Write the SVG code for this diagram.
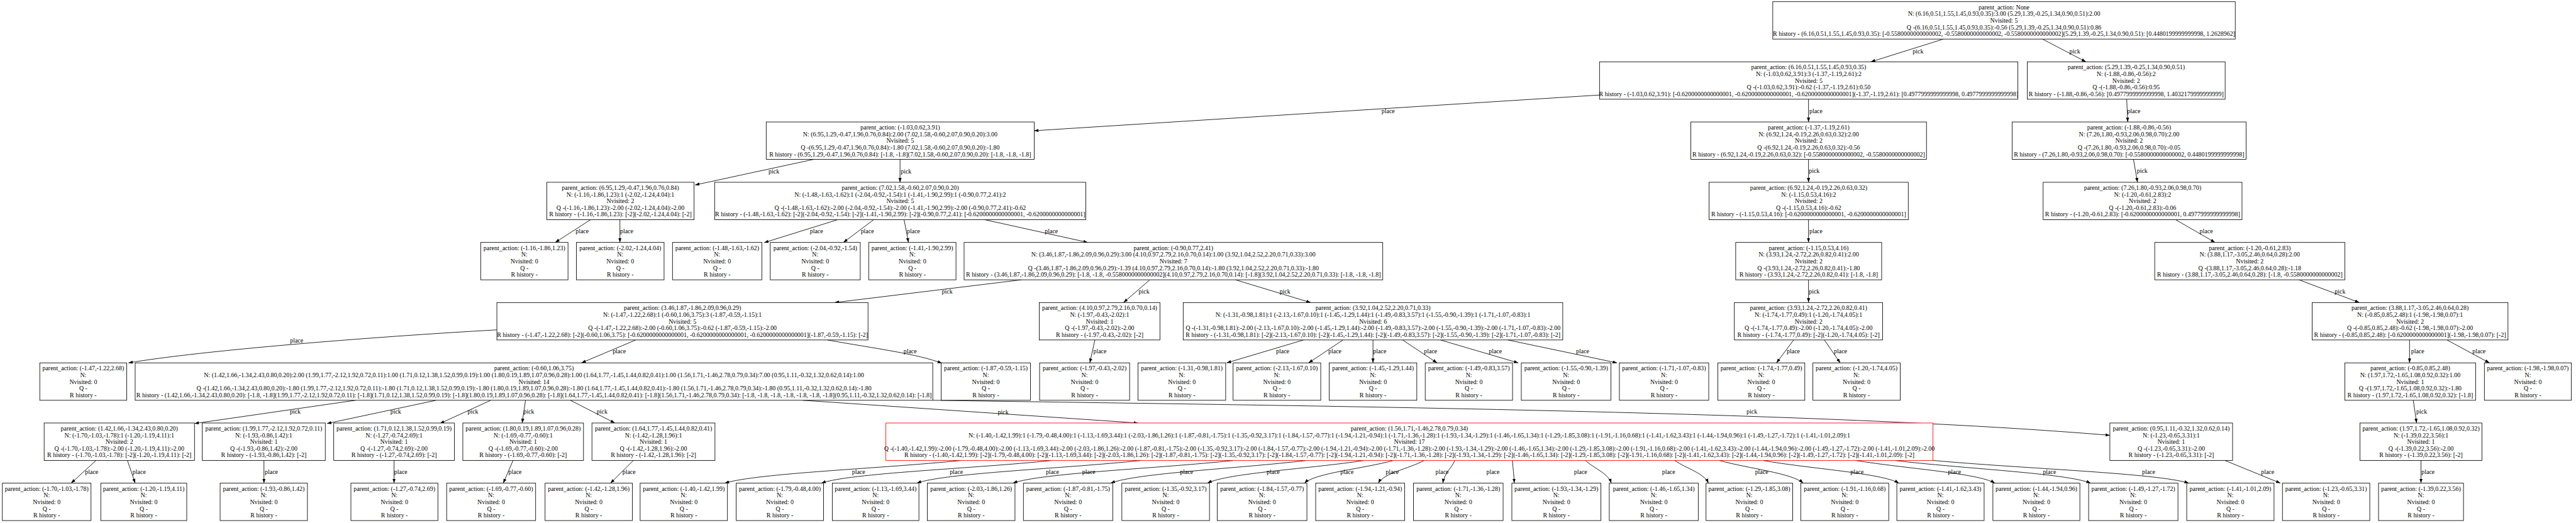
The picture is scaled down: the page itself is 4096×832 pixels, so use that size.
<svg xmlns="http://www.w3.org/2000/svg" width="4096" height="832" viewBox="0 0 4096 832">
<style>
.b{fill:#fff;stroke:#000;stroke-width:1.6}
.r{stroke:#f00}
text{font-family:"Liberation Serif","Times New Roman",serif;font-size:18.6px;text-anchor:middle;fill:#000}
.e{fill:none;stroke:#000;stroke-width:1.6;marker-end:url(#a)}
</style>
<defs>
<marker id="a" markerUnits="userSpaceOnUse" markerWidth="14" markerHeight="10" viewBox="0 0 14 10" refX="13" refY="4.65" orient="auto"><path d="M0,0 L13,4.65 L0,9.3 z" fill="#000"/></marker>
</defs>
<rect width="4096" height="832" fill="#fff"/>
<g transform="scale(0.536)">
<g id="edges">
<path class="e" d="M5765,116 L5550,183.5"/><text x="5690" y="158">pick</text>
<path class="e" d="M6059,116 L6188,183.5"/><text x="6155" y="158">pick</text>
<path class="e" d="M4745,282 L3068,388"/><text x="4118" y="336">place</text>
<path class="e" d="M5365,294.5 L5365,362"/><text x="5387" y="336">place</text>
<path class="e" d="M6309,294.5 L6312,362"/><text x="6330" y="335">place</text>
<path class="e" d="M6329,473 L6341,541"/><text x="6355" y="513">pick</text>
<path class="e" d="M6454,652 L6571,719.5"/><text x="6545" y="692">place</text>
<path class="e" d="M6820,830.5 L6999,898"/><text x="6942" y="871">pick</text>
<path class="e" d="M7148,1009 L7148,1077"/><text x="7172" y="1049">place</text>
<path class="e" d="M7259,1009 L7385,1077"/><text x="7354" y="1049">place</text>
<path class="e" d="M7159,1188 L7169,1255.5"/><text x="7184" y="1228">pick</text>
<path class="e" d="M7182,1366.5 L7182,1434"/><text x="7203" y="1407">place</text>
<path class="e" d="M5365,473 L5365,541"/><text x="5382" y="513">pick</text>
<path class="e" d="M5365,652 L5365,719.5"/><text x="5387" y="692">place</text>
<path class="e" d="M5365,830.5 L5365,898"/><text x="5382" y="871">pick</text>
<path class="e" d="M5321,1009 L5270,1077"/><text x="5320" y="1049">place</text>
<path class="e" d="M5412,1009 L5459,1077"/><text x="5460" y="1049">place</text>
<path class="e" d="M2414,473 L2062,549"/><text x="2296" y="514">pick</text>
<path class="e" d="M2670,473 L2670,541"/><text x="2688" y="514">pick</text>
<path class="e" d="M1752,652 L1647,719.5"/><text x="1727" y="693">place</text>
<path class="e" d="M1839,652 L1839,719.5"/><text x="1859" y="693">place</text>
<path class="e" d="M2485,652 L2267,720"/><text x="2422" y="693">place</text>
<path class="e" d="M2592,652 L2502,719.5"/><text x="2573" y="693">place</text>
<path class="e" d="M2682,652 L2695,719.5"/><text x="2710" y="693">place</text>
<path class="e" d="M2921,652 L3227,719.5"/><text x="3119" y="693">place</text>
<path class="e" d="M3030,830.5 L2476,898"/><text x="2810" y="872">pick</text>
<path class="e" d="M3411,830.5 L3333,898"/><text x="3394" y="872">pick</text>
<path class="e" d="M3665,830.5 L3888,898"/><text x="3812" y="871">pick</text>
<path class="e" d="M1474,979 C1100,1000 600,1040 381,1077"/><text x="880" y="1016">place</text>
<path class="e" d="M1886,1009 L1725,1077"/><text x="1837" y="1049">place</text>
<path class="e" d="M2454,1009 C2600,1035 2720,1050 2794,1078"/><text x="2700" y="1049">place</text>
<path class="e" d="M3248,1009 L3233,1077"/><text x="3263" y="1049">place</text>
<path class="e" d="M3867,1009 L3639,1077"/><text x="3805" y="1049">place</text>
<path class="e" d="M3984,1009 L3882,1077"/><text x="3960" y="1049">place</text>
<path class="e" d="M4073,1009 L4073,1077"/><text x="4093" y="1049">place</text>
<path class="e" d="M4161,1009 L4263,1077"/><text x="4244" y="1049">place</text>
<path class="e" d="M4273,1009 L4504,1077"/><text x="4436" y="1049">place</text>
<path class="e" d="M4473,1009 L4797,1077"/><text x="4695" y="1049">place</text>
<path class="e" d="M1055,1188 L577,1257"/><text x="876" y="1228">pick</text>
<path class="e" d="M1294,1188 L970,1257"/><text x="1174" y="1228">pick</text>
<path class="e" d="M1456,1188 L1305,1257"/><text x="1403" y="1228">pick</text>
<path class="e" d="M1559,1188 L1549,1255.5"/><text x="1569" y="1228">pick</text>
<path class="e" d="M1692,1188 L1824,1255.5"/><text x="1786" y="1228">pick</text>
<path class="e" d="M2381,1188 L3376,1255.5"/><text x="2976" y="1229">pick</text>
<path class="e" d="M2767,1188 C3900,1205 5400,1220 6259,1292"/><text x="5197" y="1228">pick</text>
<path class="e" d="M285,1366.5 L211,1434"/><text x="272" y="1407">place</text>
<path class="e" d="M378,1366.5 L401,1434"/><text x="413" y="1407">place</text>
<path class="e" d="M783,1366.5 L783,1434"/><text x="805" y="1407">place</text>
<path class="e" d="M1169,1366.5 L1169,1434"/><text x="1189" y="1407">place</text>
<path class="e" d="M1522,1366.5 L1493,1434"/><text x="1528" y="1407">place</text>
<path class="e" d="M1879,1366.5 L1811,1434"/><text x="1866" y="1407">place</text>
<path class="e" d="M6600,1366.5 L6765,1434"/><text x="6727" y="1407">place</text>
<path class="e" d="M2853,1366.5 C2612,1391 2247,1404 2150,1434"/><text x="2547" y="1407">place</text>
<path class="e" d="M3122,1366.5 C2887,1391 2518,1404 2437,1434"/><text x="2837" y="1407">place</text>
<path class="e" d="M3387,1366.5 C3153,1391 2800,1404 2720,1434"/><text x="3122" y="1407">place</text>
<path class="e" d="M3661,1366.5 C3430,1391 3085,1404 3005,1434"/><text x="3230" y="1407">place</text>
<path class="e" d="M3877,1366.5 C3670,1391 3370,1404 3295,1434"/><text x="3520" y="1407">place</text>
<path class="e" d="M4047,1366.5 C3890,1391 3640,1404 3582,1434"/><text x="3777" y="1407">place</text>
<path class="e" d="M4134,1366.5 C4045,1391 3900,1404 3870,1434"/><text x="3996" y="1407">place</text>
<path class="e" d="M4225,1366.5 C4180,1391 4105,1404 4089,1434"/><text x="4130" y="1407">place</text>
<path class="e" d="M4316,1366.5 C4305,1391 4285,1404 4280,1434"/><text x="4278" y="1407">place</text>
<path class="e" d="M4487,1366.5 C4488,1391 4491,1404 4492,1434"/><text x="4429" y="1407">place</text>
<path class="e" d="M4703,1366.5 C4730,1391 4770,1404 4780,1434"/><text x="4689" y="1407">place</text>
<path class="e" d="M4968,1366.5 C5003,1391 5055,1404 5068,1434"/><text x="4950" y="1407">place</text>
<path class="e" d="M5100,1366.5 C5187,1391 5317,1404 5349,1434"/><text x="5226" y="1407">place</text>
<path class="e" d="M5229,1366.5 C5366,1391 5583,1404 5633,1434"/><text x="5509" y="1407">place</text>
<path class="e" d="M5504,1366.5 C5654,1391 5868,1404 5918,1434"/><text x="5798" y="1407">place</text>
<path class="e" d="M5620,1366.5 C5820,1391 6130,1404 6202,1434"/><text x="6080" y="1407">place</text>
<path class="e" d="M5734,1366.5 C6000,1391 6400,1404 6493,1434"/><text x="6374" y="1407">place</text>
</g>
<g id="n_root" transform="translate(5945,5)"><rect class="b" x="-686" y="0" width="1372" height="111"/><text><tspan x="0" y="22.5">parent_action: None</tspan><tspan x="0" y="42.3">N: (6.16,0.51,1.55,1.45,0.93,0.35):3.00 (5.29,1.39,-0.25,1.34,0.90,0.51):2.00</tspan><tspan x="0" y="62.1">Nvisited: 5</tspan><tspan x="0" y="81.9">Q -(6.16,0.51,1.55,1.45,0.93,0.35):-0.56 (5.29,1.39,-0.25,1.34,0.90,0.51):0.86</tspan><tspan x="0" y="101.7">R history - (6.16,0.51,1.55,1.45,0.93,0.35): [-0.5580000000000002, -0.5580000000000002, -0.5580000000000002](5.29,1.39,-0.25,1.34,0.90,0.51): [0.4480199999999998, 1.2628962]</tspan></text></g>
<g id="n_1a" transform="translate(5365.5,183.5)"><rect class="b" x="-620.5" y="0" width="1241" height="111"/><text><tspan x="0" y="22.5">parent_action: (6.16,0.51,1.55,1.45,0.93,0.35)</tspan><tspan x="0" y="42.3">N: (-1.03,0.62,3.91):3 (-1.37,-1.19,2.61):2</tspan><tspan x="0" y="62.1">Nvisited: 5</tspan><tspan x="0" y="81.9">Q -(-1.03,0.62,3.91):-0.62 (-1.37,-1.19,2.61):0.50</tspan><tspan x="0" y="101.7">R history - (-1.03,0.62,3.91): [-0.6200000000000001, -0.6200000000000001, -0.6200000000000001](-1.37,-1.19,2.61): [0.4977999999999998, 0.4977999999999998]</tspan></text></g>
<g id="n_1b" transform="translate(6307.5,183.5)"><rect class="b" x="-293.5" y="0" width="587" height="111"/><text><tspan x="0" y="22.5">parent_action: (5.29,1.39,-0.25,1.34,0.90,0.51)</tspan><tspan x="0" y="42.3">N: (-1.88,-0.86,-0.56):2</tspan><tspan x="0" y="62.1">Nvisited: 2</tspan><tspan x="0" y="81.9">Q -(-1.88,-0.86,-0.56):0.95</tspan><tspan x="0" y="101.7">R history - (-1.88,-0.86,-0.56): [0.4977999999999998, 1.4032179999999999]</tspan></text></g>
<g id="n_2a" transform="translate(2670.5,362)"><rect class="b" x="-397.5" y="0" width="795" height="111"/><text><tspan x="0" y="22.5">parent_action: (-1.03,0.62,3.91)</tspan><tspan x="0" y="42.3">N: (6.95,1.29,-0.47,1.96,0.76,0.84):2.00 (7.02,1.58,-0.60,2.07,0.90,0.20):3.00</tspan><tspan x="0" y="62.1">Nvisited: 5</tspan><tspan x="0" y="81.9">Q -(6.95,1.29,-0.47,1.96,0.76,0.84):-1.80 (7.02,1.58,-0.60,2.07,0.90,0.20):-1.80</tspan><tspan x="0" y="101.7">R history - (6.95,1.29,-0.47,1.96,0.76,0.84): [-1.8, -1.8](7.02,1.58,-0.60,2.07,0.90,0.20): [-1.8, -1.8, -1.8]</tspan></text></g>
<g id="n_2b" transform="translate(5365.5,362)"><rect class="b" x="-349.5" y="0" width="699" height="111"/><text><tspan x="0" y="22.5">parent_action: (-1.37,-1.19,2.61)</tspan><tspan x="0" y="42.3">N: (6.92,1.24,-0.19,2.26,0.63,0.32):2.00</tspan><tspan x="0" y="62.1">Nvisited: 2</tspan><tspan x="0" y="81.9">Q -(6.92,1.24,-0.19,2.26,0.63,0.32):-0.56</tspan><tspan x="0" y="101.7">R history - (6.92,1.24,-0.19,2.26,0.63,0.32): [-0.5580000000000002, -0.5580000000000002]</tspan></text></g>
<g id="n_2c" transform="translate(6316,362)"><rect class="b" x="-347" y="0" width="694" height="111"/><text><tspan x="0" y="22.5">parent_action: (-1.88,-0.86,-0.56)</tspan><tspan x="0" y="42.3">N: (7.26,1.80,-0.93,2.06,0.98,0.70):2.00</tspan><tspan x="0" y="62.1">Nvisited: 2</tspan><tspan x="0" y="81.9">Q -(7.26,1.80,-0.93,2.06,0.98,0.70):-0.05</tspan><tspan x="0" y="101.7">R history - (7.26,1.80,-0.93,2.06,0.98,0.70): [-0.5580000000000002, 0.4480199999999998]</tspan></text></g>
<g id="n_3a" transform="translate(1840.5,541)"><rect class="b" x="-218.5" y="0" width="437" height="111"/><text><tspan x="0" y="22.5">parent_action: (6.95,1.29,-0.47,1.96,0.76,0.84)</tspan><tspan x="0" y="42.3">N: (-1.16,-1.86,1.23):1 (-2.02,-1.24,4.04):1</tspan><tspan x="0" y="62.1">Nvisited: 2</tspan><tspan x="0" y="81.9">Q -(-1.16,-1.86,1.23):-2.00 (-2.02,-1.24,4.04):-2.00</tspan><tspan x="0" y="101.7">R history - (-1.16,-1.86,1.23): [-2](-2.02,-1.24,4.04): [-2]</tspan></text></g>
<g id="n_3b" transform="translate(2670.5,541)"><rect class="b" x="-550.5" y="0" width="1101" height="111"/><text><tspan x="0" y="22.5">parent_action: (7.02,1.58,-0.60,2.07,0.90,0.20)</tspan><tspan x="0" y="42.3">N: (-1.48,-1.63,-1.62):1 (-2.04,-0.92,-1.54):1 (-1.41,-1.90,2.99):1 (-0.90,0.77,2.41):2</tspan><tspan x="0" y="62.1">Nvisited: 5</tspan><tspan x="0" y="81.9">Q -(-1.48,-1.63,-1.62):-2.00 (-2.04,-0.92,-1.54):-2.00 (-1.41,-1.90,2.99):-2.00 (-0.90,0.77,2.41):-0.62</tspan><tspan x="0" y="101.7">R history - (-1.48,-1.63,-1.62): [-2](-2.04,-0.92,-1.54): [-2](-1.41,-1.90,2.99): [-2](-0.90,0.77,2.41): [-0.6200000000000001, -0.6200000000000001]</tspan></text></g>
<g id="n_3c" transform="translate(5365.5,541)"><rect class="b" x="-295.5" y="0" width="591" height="111"/><text><tspan x="0" y="22.5">parent_action: (6.92,1.24,-0.19,2.26,0.63,0.32)</tspan><tspan x="0" y="42.3">N: (-1.15,0.53,4.16):2</tspan><tspan x="0" y="62.1">Nvisited: 2</tspan><tspan x="0" y="81.9">Q -(-1.15,0.53,4.16):-0.62</tspan><tspan x="0" y="101.7">R history - (-1.15,0.53,4.16): [-0.6200000000000001, -0.6200000000000001]</tspan></text></g>
<g id="n_3d" transform="translate(6356,541)"><rect class="b" x="-295" y="0" width="590" height="111"/><text><tspan x="0" y="22.5">parent_action: (7.26,1.80,-0.93,2.06,0.98,0.70)</tspan><tspan x="0" y="42.3">N: (-1.20,-0.61,2.83):2</tspan><tspan x="0" y="62.1">Nvisited: 2</tspan><tspan x="0" y="81.9">Q -(-1.20,-0.61,2.83):-0.06</tspan><tspan x="0" y="101.7">R history - (-1.20,-0.61,2.83): [-0.6200000000000001, 0.4977999999999998]</tspan></text></g>
<g id="n_4a" transform="translate(1555.5,719.5)"><rect class="b" x="-129.5" y="0" width="259" height="111"/><text><tspan x="0" y="22.5">parent_action: (-1.16,-1.86,1.23)</tspan><tspan x="0" y="42.3">N:</tspan><tspan x="0" y="62.1">Nvisited: 0</tspan><tspan x="0" y="81.9">Q -</tspan><tspan x="0" y="101.7">R history -</tspan></text></g>
<g id="n_4b" transform="translate(1840,719.5)"><rect class="b" x="-130" y="0" width="260" height="111"/><text><tspan x="0" y="22.5">parent_action: (-2.02,-1.24,4.04)</tspan><tspan x="0" y="42.3">N:</tspan><tspan x="0" y="62.1">Nvisited: 0</tspan><tspan x="0" y="81.9">Q -</tspan><tspan x="0" y="101.7">R history -</tspan></text></g>
<g id="n_4c" transform="translate(2127.5,719.5)"><rect class="b" x="-132.5" y="0" width="265" height="111"/><text><tspan x="0" y="22.5">parent_action: (-1.48,-1.63,-1.62)</tspan><tspan x="0" y="42.3">N:</tspan><tspan x="0" y="62.1">Nvisited: 0</tspan><tspan x="0" y="81.9">Q -</tspan><tspan x="0" y="101.7">R history -</tspan></text></g>
<g id="n_4d" transform="translate(2418.5,719.5)"><rect class="b" x="-133.5" y="0" width="267" height="111"/><text><tspan x="0" y="22.5">parent_action: (-2.04,-0.92,-1.54)</tspan><tspan x="0" y="42.3">N:</tspan><tspan x="0" y="62.1">Nvisited: 0</tspan><tspan x="0" y="81.9">Q -</tspan><tspan x="0" y="101.7">R history -</tspan></text></g>
<g id="n_4e" transform="translate(2706.5,719.5)"><rect class="b" x="-129.5" y="0" width="259" height="111"/><text><tspan x="0" y="22.5">parent_action: (-1.41,-1.90,2.99)</tspan><tspan x="0" y="42.3">N:</tspan><tspan x="0" y="62.1">Nvisited: 0</tspan><tspan x="0" y="81.9">Q -</tspan><tspan x="0" y="101.7">R history -</tspan></text></g>
<g id="n_4f" transform="translate(3481,719.5)"><rect class="b" x="-621" y="0" width="1242" height="111"/><text><tspan x="0" y="22.5">parent_action: (-0.90,0.77,2.41)</tspan><tspan x="0" y="42.3">N: (3.46,1.87,-1.86,2.09,0.96,0.29):3.00 (4.10,0.97,2.79,2.16,0.70,0.14):1.00 (3.92,1.04,2.52,2.20,0.71,0.33):3.00</tspan><tspan x="0" y="62.1">Nvisited: 7</tspan><tspan x="0" y="81.9">Q -(3.46,1.87,-1.86,2.09,0.96,0.29):-1.39 (4.10,0.97,2.79,2.16,0.70,0.14):-1.80 (3.92,1.04,2.52,2.20,0.71,0.33):-1.80</tspan><tspan x="0" y="101.7">R history - (3.46,1.87,-1.86,2.09,0.96,0.29): [-1.8, -1.8, -0.5580000000000002](4.10,0.97,2.79,2.16,0.70,0.14): [-1.8](3.92,1.04,2.52,2.20,0.71,0.33): [-1.8, -1.8, -1.8]</tspan></text></g>
<g id="n_4g" transform="translate(5365.5,719.5)"><rect class="b" x="-216.5" y="0" width="433" height="111"/><text><tspan x="0" y="22.5">parent_action: (-1.15,0.53,4.16)</tspan><tspan x="0" y="42.3">N: (3.93,1.24,-2.72,2.26,0.82,0.41):2.00</tspan><tspan x="0" y="62.1">Nvisited: 2</tspan><tspan x="0" y="81.9">Q -(3.93,1.24,-2.72,2.26,0.82,0.41):-1.80</tspan><tspan x="0" y="101.7">R history - (3.93,1.24,-2.72,2.26,0.82,0.41): [-1.8, -1.8]</tspan></text></g>
<g id="n_4h" transform="translate(6674,719.5)"><rect class="b" x="-282" y="0" width="564" height="111"/><text><tspan x="0" y="22.5">parent_action: (-1.20,-0.61,2.83)</tspan><tspan x="0" y="42.3">N: (3.88,1.17,-3.05,2.46,0.64,0.28):2.00</tspan><tspan x="0" y="62.1">Nvisited: 2</tspan><tspan x="0" y="81.9">Q -(3.88,1.17,-3.05,2.46,0.64,0.28):-1.18</tspan><tspan x="0" y="101.7">R history - (3.88,1.17,-3.05,2.46,0.64,0.28): [-1.8, -0.5580000000000002]</tspan></text></g>
<g id="n_5a" transform="translate(2024.5,898)"><rect class="b" x="-550.5" y="0" width="1101" height="111"/><text><tspan x="0" y="22.5">parent_action: (3.46,1.87,-1.86,2.09,0.96,0.29)</tspan><tspan x="0" y="42.3">N: (-1.47,-1.22,2.68):1 (-0.60,1.06,3.75):3 (-1.87,-0.59,-1.15):1</tspan><tspan x="0" y="62.1">Nvisited: 5</tspan><tspan x="0" y="81.9">Q -(-1.47,-1.22,2.68):-2.00 (-0.60,1.06,3.75):-0.62 (-1.87,-0.59,-1.15):-2.00</tspan><tspan x="0" y="101.7">R history - (-1.47,-1.22,2.68): [-2](-0.60,1.06,3.75): [-0.6200000000000001, -0.6200000000000001, -0.6200000000000001](-1.87,-0.59,-1.15): [-2]</tspan></text></g>
<g id="n_5b" transform="translate(3262,898)"><rect class="b" x="-179" y="0" width="358" height="111"/><text><tspan x="0" y="22.5">parent_action: (4.10,0.97,2.79,2.16,0.70,0.14)</tspan><tspan x="0" y="42.3">N: (-1.97,-0.43,-2.02):1</tspan><tspan x="0" y="62.1">Nvisited: 1</tspan><tspan x="0" y="81.9">Q -(-1.97,-0.43,-2.02):-2.00</tspan><tspan x="0" y="101.7">R history - (-1.97,-0.43,-2.02): [-2]</tspan></text></g>
<g id="n_5c" transform="translate(4073,898)"><rect class="b" x="-563" y="0" width="1126" height="111"/><text><tspan x="0" y="22.5">parent_action: (3.92,1.04,2.52,2.20,0.71,0.33)</tspan><tspan x="0" y="42.3">N: (-1.31,-0.98,1.81):1 (-2.13,-1.67,0.10):1 (-1.45,-1.29,1.44):1 (-1.49,-0.83,3.57):1 (-1.55,-0.90,-1.39):1 (-1.71,-1.07,-0.83):1</tspan><tspan x="0" y="62.1">Nvisited: 6</tspan><tspan x="0" y="81.9">Q -(-1.31,-0.98,1.81):-2.00 (-2.13,-1.67,0.10):-2.00 (-1.45,-1.29,1.44):-2.00 (-1.49,-0.83,3.57):-2.00 (-1.55,-0.90,-1.39):-2.00 (-1.71,-1.07,-0.83):-2.00</tspan><tspan x="0" y="101.7">R history - (-1.31,-0.98,1.81): [-2](-2.13,-1.67,0.10): [-2](-1.45,-1.29,1.44): [-2](-1.49,-0.83,3.57): [-2](-1.55,-0.90,-1.39): [-2](-1.71,-1.07,-0.83): [-2]</tspan></text></g>
<g id="n_5d" transform="translate(5365,898)"><rect class="b" x="-220" y="0" width="440" height="111"/><text><tspan x="0" y="22.5">parent_action: (3.93,1.24,-2.72,2.26,0.82,0.41)</tspan><tspan x="0" y="42.3">N: (-1.74,-1.77,0.49):1 (-1.20,-1.74,4.05):1</tspan><tspan x="0" y="62.1">Nvisited: 2</tspan><tspan x="0" y="81.9">Q -(-1.74,-1.77,0.49):-2.00 (-1.20,-1.74,4.05):-2.00</tspan><tspan x="0" y="101.7">R history - (-1.74,-1.77,0.49): [-2](-1.20,-1.74,4.05): [-2]</tspan></text></g>
<g id="n_5e" transform="translate(7149.5,898)"><rect class="b" x="-290.5" y="0" width="581" height="111"/><text><tspan x="0" y="22.5">parent_action: (3.88,1.17,-3.05,2.46,0.64,0.28)</tspan><tspan x="0" y="42.3">N: (-0.85,0.85,2.48):1 (-1.98,-1.98,0.07):1</tspan><tspan x="0" y="62.1">Nvisited: 2</tspan><tspan x="0" y="81.9">Q -(-0.85,0.85,2.48):-0.62 (-1.98,-1.98,0.07):-2.00</tspan><tspan x="0" y="101.7">R history - (-0.85,0.85,2.48): [-0.6200000000000001](-1.98,-1.98,0.07): [-2]</tspan></text></g>
<g id="n_6a" transform="translate(247,1077)"><rect class="b" x="-129" y="0" width="258" height="111"/><text><tspan x="0" y="22.5">parent_action: (-1.47,-1.22,2.68)</tspan><tspan x="0" y="42.3">N:</tspan><tspan x="0" y="62.1">Nvisited: 0</tspan><tspan x="0" y="81.9">Q -</tspan><tspan x="0" y="101.7">R history -</tspan></text></g>
<g id="n_6b" transform="translate(1584,1077)"><rect class="b" x="-1183" y="0" width="2366" height="111"/><text><tspan x="0" y="22.5">parent_action: (-0.60,1.06,3.75)</tspan><tspan x="0" y="42.3">N: (1.42,1.66,-1.34,2.43,0.80,0.20):2.00 (1.99,1.77,-2.12,1.92,0.72,0.11):1.00 (1.71,0.12,1.38,1.52,0.99,0.19):1.00 (1.80,0.19,1.89,1.07,0.96,0.28):1.00 (1.64,1.77,-1.45,1.44,0.82,0.41):1.00 (1.56,1.71,-1.46,2.78,0.79,0.34):7.00 (0.95,1.11,-0.32,1.32,0.62,0.14):1.00</tspan><tspan x="0" y="62.1">Nvisited: 14</tspan><tspan x="0" y="81.9">Q -(1.42,1.66,-1.34,2.43,0.80,0.20):-1.80 (1.99,1.77,-2.12,1.92,0.72,0.11):-1.80 (1.71,0.12,1.38,1.52,0.99,0.19):-1.80 (1.80,0.19,1.89,1.07,0.96,0.28):-1.80 (1.64,1.77,-1.45,1.44,0.82,0.41):-1.80 (1.56,1.71,-1.46,2.78,0.79,0.34):-1.80 (0.95,1.11,-0.32,1.32,0.62,0.14):-1.80</tspan><tspan x="0" y="101.7">R history - (1.42,1.66,-1.34,2.43,0.80,0.20): [-1.8, -1.8](1.99,1.77,-2.12,1.92,0.72,0.11): [-1.8](1.71,0.12,1.38,1.52,0.99,0.19): [-1.8](1.80,0.19,1.89,1.07,0.96,0.28): [-1.8](1.64,1.77,-1.45,1.44,0.82,0.41): [-1.8](1.56,1.71,-1.46,2.78,0.79,0.34): [-1.8, -1.8, -1.8, -1.8, -1.8, -1.8, -1.8](0.95,1.11,-0.32,1.32,0.62,0.14): [-1.8]</tspan></text></g>
<g id="n_6c" transform="translate(2924.5,1077)"><rect class="b" x="-132.5" y="0" width="265" height="111"/><text><tspan x="0" y="22.5">parent_action: (-1.87,-0.59,-1.15)</tspan><tspan x="0" y="42.3">N:</tspan><tspan x="0" y="62.1">Nvisited: 0</tspan><tspan x="0" y="81.9">Q -</tspan><tspan x="0" y="101.7">R history -</tspan></text></g>
<g id="n_6d" transform="translate(3217.5,1077)"><rect class="b" x="-133.5" y="0" width="267" height="111"/><text><tspan x="0" y="22.5">parent_action: (-1.97,-0.43,-2.02)</tspan><tspan x="0" y="42.3">N:</tspan><tspan x="0" y="62.1">Nvisited: 0</tspan><tspan x="0" y="81.9">Q -</tspan><tspan x="0" y="101.7">R history -</tspan></text></g>
<g id="n_6e" transform="translate(3506,1077)"><rect class="b" x="-130" y="0" width="260" height="111"/><text><tspan x="0" y="22.5">parent_action: (-1.31,-0.98,1.81)</tspan><tspan x="0" y="42.3">N:</tspan><tspan x="0" y="62.1">Nvisited: 0</tspan><tspan x="0" y="81.9">Q -</tspan><tspan x="0" y="101.7">R history -</tspan></text></g>
<g id="n_6f" transform="translate(3788,1077)"><rect class="b" x="-130" y="0" width="260" height="111"/><text><tspan x="0" y="22.5">parent_action: (-2.13,-1.67,0.10)</tspan><tspan x="0" y="42.3">N:</tspan><tspan x="0" y="62.1">Nvisited: 0</tspan><tspan x="0" y="81.9">Q -</tspan><tspan x="0" y="101.7">R history -</tspan></text></g>
<g id="n_6g" transform="translate(4073,1077)"><rect class="b" x="-130" y="0" width="260" height="111"/><text><tspan x="0" y="22.5">parent_action: (-1.45,-1.29,1.44)</tspan><tspan x="0" y="42.3">N:</tspan><tspan x="0" y="62.1">Nvisited: 0</tspan><tspan x="0" y="81.9">Q -</tspan><tspan x="0" y="101.7">R history -</tspan></text></g>
<g id="n_6h" transform="translate(4357.5,1077)"><rect class="b" x="-129.5" y="0" width="259" height="111"/><text><tspan x="0" y="22.5">parent_action: (-1.49,-0.83,3.57)</tspan><tspan x="0" y="42.3">N:</tspan><tspan x="0" y="62.1">Nvisited: 0</tspan><tspan x="0" y="81.9">Q -</tspan><tspan x="0" y="101.7">R history -</tspan></text></g>
<g id="n_6i" transform="translate(4646,1077)"><rect class="b" x="-133" y="0" width="266" height="111"/><text><tspan x="0" y="22.5">parent_action: (-1.55,-0.90,-1.39)</tspan><tspan x="0" y="42.3">N:</tspan><tspan x="0" y="62.1">Nvisited: 0</tspan><tspan x="0" y="81.9">Q -</tspan><tspan x="0" y="101.7">R history -</tspan></text></g>
<g id="n_6j" transform="translate(4936.5,1077)"><rect class="b" x="-132.5" y="0" width="265" height="111"/><text><tspan x="0" y="22.5">parent_action: (-1.71,-1.07,-0.83)</tspan><tspan x="0" y="42.3">N:</tspan><tspan x="0" y="62.1">Nvisited: 0</tspan><tspan x="0" y="81.9">Q -</tspan><tspan x="0" y="101.7">R history -</tspan></text></g>
<g id="n_6k" transform="translate(5225,1077)"><rect class="b" x="-129" y="0" width="258" height="111"/><text><tspan x="0" y="22.5">parent_action: (-1.74,-1.77,0.49)</tspan><tspan x="0" y="42.3">N:</tspan><tspan x="0" y="62.1">Nvisited: 0</tspan><tspan x="0" y="81.9">Q -</tspan><tspan x="0" y="101.7">R history -</tspan></text></g>
<g id="n_6l" transform="translate(5507.5,1077)"><rect class="b" x="-129.5" y="0" width="259" height="111"/><text><tspan x="0" y="22.5">parent_action: (-1.20,-1.74,4.05)</tspan><tspan x="0" y="42.3">N:</tspan><tspan x="0" y="62.1">Nvisited: 0</tspan><tspan x="0" y="81.9">Q -</tspan><tspan x="0" y="101.7">R history -</tspan></text></g>
<g id="n_6m" transform="translate(7150,1077)"><rect class="b" x="-194" y="0" width="388" height="111"/><text><tspan x="0" y="22.5">parent_action: (-0.85,0.85,2.48)</tspan><tspan x="0" y="42.3">N: (1.97,1.72,-1.65,1.08,0.92,0.32):1.00</tspan><tspan x="0" y="62.1">Nvisited: 1</tspan><tspan x="0" y="81.9">Q -(1.97,1.72,-1.65,1.08,0.92,0.32):-1.80</tspan><tspan x="0" y="101.7">R history - (1.97,1.72,-1.65,1.08,0.92,0.32): [-1.8]</tspan></text></g>
<g id="n_6n" transform="translate(7499,1077)"><rect class="b" x="-129" y="0" width="258" height="111"/><text><tspan x="0" y="22.5">parent_action: (-1.98,-1.98,0.07)</tspan><tspan x="0" y="42.3">N:</tspan><tspan x="0" y="62.1">Nvisited: 0</tspan><tspan x="0" y="81.9">Q -</tspan><tspan x="0" y="101.7">R history -</tspan></text></g>
<g id="n_7a" transform="translate(354,1255.5)"><rect class="b" x="-223" y="0" width="446" height="111"/><text><tspan x="0" y="22.5">parent_action: (1.42,1.66,-1.34,2.43,0.80,0.20)</tspan><tspan x="0" y="42.3">N: (-1.70,-1.03,-1.78):1 (-1.20,-1.19,4.11):1</tspan><tspan x="0" y="62.1">Nvisited: 2</tspan><tspan x="0" y="81.9">Q -(-1.70,-1.03,-1.78):-2.00 (-1.20,-1.19,4.11):-2.00</tspan><tspan x="0" y="101.7">R history - (-1.70,-1.03,-1.78): [-2](-1.20,-1.19,4.11): [-2]</tspan></text></g>
<g id="n_7b" transform="translate(782.5,1255.5)"><rect class="b" x="-182.5" y="0" width="365" height="111"/><text><tspan x="0" y="22.5">parent_action: (1.99,1.77,-2.12,1.92,0.72,0.11)</tspan><tspan x="0" y="42.3">N: (-1.93,-0.86,1.42):1</tspan><tspan x="0" y="62.1">Nvisited: 1</tspan><tspan x="0" y="81.9">Q -(-1.93,-0.86,1.42):-2.00</tspan><tspan x="0" y="101.7">R history - (-1.93,-0.86,1.42): [-2]</tspan></text></g>
<g id="n_7c" transform="translate(1169,1255.5)"><rect class="b" x="-179" y="0" width="358" height="111"/><text><tspan x="0" y="22.5">parent_action: (1.71,0.12,1.38,1.52,0.99,0.19)</tspan><tspan x="0" y="42.3">N: (-1.27,-0.74,2.69):1</tspan><tspan x="0" y="62.1">Nvisited: 1</tspan><tspan x="0" y="81.9">Q -(-1.27,-0.74,2.69):-2.00</tspan><tspan x="0" y="101.7">R history - (-1.27,-0.74,2.69): [-2]</tspan></text></g>
<g id="n_7d" transform="translate(1552,1255.5)"><rect class="b" x="-179" y="0" width="358" height="111"/><text><tspan x="0" y="22.5">parent_action: (1.80,0.19,1.89,1.07,0.96,0.28)</tspan><tspan x="0" y="42.3">N: (-1.69,-0.77,-0.60):1</tspan><tspan x="0" y="62.1">Nvisited: 1</tspan><tspan x="0" y="81.9">Q -(-1.69,-0.77,-0.60):-2.00</tspan><tspan x="0" y="101.7">R history - (-1.69,-0.77,-0.60): [-2]</tspan></text></g>
<g id="n_7e" transform="translate(1938.5,1255.5)"><rect class="b" x="-182.5" y="0" width="365" height="111"/><text><tspan x="0" y="22.5">parent_action: (1.64,1.77,-1.45,1.44,0.82,0.41)</tspan><tspan x="0" y="42.3">N: (-1.42,-1.28,1.96):1</tspan><tspan x="0" y="62.1">Nvisited: 1</tspan><tspan x="0" y="81.9">Q -(-1.42,-1.28,1.96):-2.00</tspan><tspan x="0" y="101.7">R history - (-1.42,-1.28,1.96): [-2]</tspan></text></g>
<g id="n_7f" transform="translate(4181,1255.5)"><rect class="b r" x="-1553" y="0" width="3106" height="111"/><text><tspan x="0" y="22.5">parent_action: (1.56,1.71,-1.46,2.78,0.79,0.34)</tspan><tspan x="0" y="42.3">N: (-1.40,-1.42,1.99):1 (-1.79,-0.48,4.00):1 (-1.13,-1.69,3.44):1 (-2.03,-1.86,1.26):1 (-1.87,-0.81,-1.75):1 (-1.35,-0.92,3.17):1 (-1.84,-1.57,-0.77):1 (-1.94,-1.21,-0.94):1 (-1.71,-1.36,-1.28):1 (-1.93,-1.34,-1.29):1 (-1.46,-1.65,1.34):1 (-1.29,-1.85,3.08):1 (-1.91,-1.16,0.68):1 (-1.41,-1.62,3.43):1 (-1.44,-1.94,0.96):1 (-1.49,-1.27,-1.72):1 (-1.41,-1.01,2.09):1</tspan><tspan x="0" y="62.1">Nvisited: 17</tspan><tspan x="0" y="81.9">Q -(-1.40,-1.42,1.99):-2.00 (-1.79,-0.48,4.00):-2.00 (-1.13,-1.69,3.44):-2.00 (-2.03,-1.86,1.26):-2.00 (-1.87,-0.81,-1.75):-2.00 (-1.35,-0.92,3.17):-2.00 (-1.84,-1.57,-0.77):-2.00 (-1.94,-1.21,-0.94):-2.00 (-1.71,-1.36,-1.28):-2.00 (-1.93,-1.34,-1.29):-2.00 (-1.46,-1.65,1.34):-2.00 (-1.29,-1.85,3.08):-2.00 (-1.91,-1.16,0.68):-2.00 (-1.41,-1.62,3.43):-2.00 (-1.44,-1.94,0.96):-2.00 (-1.49,-1.27,-1.72):-2.00 (-1.41,-1.01,2.09):-2.00</tspan><tspan x="0" y="101.7">R history - (-1.40,-1.42,1.99): [-2](-1.79,-0.48,4.00): [-2](-1.13,-1.69,3.44): [-2](-2.03,-1.86,1.26): [-2](-1.87,-0.81,-1.75): [-2](-1.35,-0.92,3.17): [-2](-1.84,-1.57,-0.77): [-2](-1.94,-1.21,-0.94): [-2](-1.71,-1.36,-1.28): [-2](-1.93,-1.34,-1.29): [-2](-1.46,-1.65,1.34): [-2](-1.29,-1.85,3.08): [-2](-1.91,-1.16,0.68): [-2](-1.41,-1.62,3.43): [-2](-1.44,-1.94,0.96): [-2](-1.49,-1.27,-1.72): [-2](-1.41,-1.01,2.09): [-2]</tspan></text></g>
<g id="n_7g" transform="translate(6441,1255.5)"><rect class="b" x="-182" y="0" width="364" height="111"/><text><tspan x="0" y="22.5">parent_action: (0.95,1.11,-0.32,1.32,0.62,0.14)</tspan><tspan x="0" y="42.3">N: (-1.23,-0.65,3.31):1</tspan><tspan x="0" y="62.1">Nvisited: 1</tspan><tspan x="0" y="81.9">Q -(-1.23,-0.65,3.31):-2.00</tspan><tspan x="0" y="101.7">R history - (-1.23,-0.65,3.31): [-2]</tspan></text></g>
<g id="n_7h" transform="translate(7182,1255.5)"><rect class="b" x="-181" y="0" width="362" height="111"/><text><tspan x="0" y="22.5">parent_action: (1.97,1.72,-1.65,1.08,0.92,0.32)</tspan><tspan x="0" y="42.3">N: (-1.39,0.22,3.56):1</tspan><tspan x="0" y="62.1">Nvisited: 1</tspan><tspan x="0" y="81.9">Q -(-1.39,0.22,3.56):-2.00</tspan><tspan x="0" y="101.7">R history - (-1.39,0.22,3.56): [-2]</tspan></text></g>
<g id="n_8_01" transform="translate(138.5,1434)"><rect class="b" x="-131.5" y="0" width="263" height="111"/><text><tspan x="0" y="22.5">parent_action: (-1.70,-1.03,-1.78)</tspan><tspan x="0" y="42.3">N:</tspan><tspan x="0" y="62.1">Nvisited: 0</tspan><tspan x="0" y="81.9">Q -</tspan><tspan x="0" y="101.7">R history -</tspan></text></g>
<g id="n_8_02" transform="translate(426.5,1434)"><rect class="b" x="-127.5" y="0" width="255" height="111"/><text><tspan x="0" y="22.5">parent_action: (-1.20,-1.19,4.11)</tspan><tspan x="0" y="42.3">N:</tspan><tspan x="0" y="62.1">Nvisited: 0</tspan><tspan x="0" y="81.9">Q -</tspan><tspan x="0" y="101.7">R history -</tspan></text></g>
<g id="n_8_03" transform="translate(782.5,1434)"><rect class="b" x="-129.5" y="0" width="259" height="111"/><text><tspan x="0" y="22.5">parent_action: (-1.93,-0.86,1.42)</tspan><tspan x="0" y="42.3">N:</tspan><tspan x="0" y="62.1">Nvisited: 0</tspan><tspan x="0" y="81.9">Q -</tspan><tspan x="0" y="101.7">R history -</tspan></text></g>
<g id="n_8_04" transform="translate(1170,1434)"><rect class="b" x="-129" y="0" width="258" height="111"/><text><tspan x="0" y="22.5">parent_action: (-1.27,-0.74,2.69)</tspan><tspan x="0" y="42.3">N:</tspan><tspan x="0" y="62.1">Nvisited: 0</tspan><tspan x="0" y="81.9">Q -</tspan><tspan x="0" y="101.7">R history -</tspan></text></g>
<g id="n_8_05" transform="translate(1457,1434)"><rect class="b" x="-132" y="0" width="264" height="111"/><text><tspan x="0" y="22.5">parent_action: (-1.69,-0.77,-0.60)</tspan><tspan x="0" y="42.3">N:</tspan><tspan x="0" y="62.1">Nvisited: 0</tspan><tspan x="0" y="81.9">Q -</tspan><tspan x="0" y="101.7">R history -</tspan></text></g>
<g id="n_8_06" transform="translate(1746.5,1434)"><rect class="b" x="-129.5" y="0" width="259" height="111"/><text><tspan x="0" y="22.5">parent_action: (-1.42,-1.28,1.96)</tspan><tspan x="0" y="42.3">N:</tspan><tspan x="0" y="62.1">Nvisited: 0</tspan><tspan x="0" y="81.9">Q -</tspan><tspan x="0" y="101.7">R history -</tspan></text></g>
<g id="n_8_07" transform="translate(2028.5,1434)"><rect class="b" x="-129.5" y="0" width="259" height="111"/><text><tspan x="0" y="22.5">parent_action: (-1.40,-1.42,1.99)</tspan><tspan x="0" y="42.3">N:</tspan><tspan x="0" y="62.1">Nvisited: 0</tspan><tspan x="0" y="81.9">Q -</tspan><tspan x="0" y="101.7">R history -</tspan></text></g>
<g id="n_8_08" transform="translate(2313.5,1434)"><rect class="b" x="-129.5" y="0" width="259" height="111"/><text><tspan x="0" y="22.5">parent_action: (-1.79,-0.48,4.00)</tspan><tspan x="0" y="42.3">N:</tspan><tspan x="0" y="62.1">Nvisited: 0</tspan><tspan x="0" y="81.9">Q -</tspan><tspan x="0" y="101.7">R history -</tspan></text></g>
<g id="n_8_09" transform="translate(2597.5,1434)"><rect class="b" x="-128.5" y="0" width="257" height="111"/><text><tspan x="0" y="22.5">parent_action: (-1.13,-1.69,3.44)</tspan><tspan x="0" y="42.3">N:</tspan><tspan x="0" y="62.1">Nvisited: 0</tspan><tspan x="0" y="81.9">Q -</tspan><tspan x="0" y="101.7">R history -</tspan></text></g>
<g id="n_8_10" transform="translate(2881,1434)"><rect class="b" x="-130" y="0" width="260" height="111"/><text><tspan x="0" y="22.5">parent_action: (-2.03,-1.86,1.26)</tspan><tspan x="0" y="42.3">N:</tspan><tspan x="0" y="62.1">Nvisited: 0</tspan><tspan x="0" y="81.9">Q -</tspan><tspan x="0" y="101.7">R history -</tspan></text></g>
<g id="n_8_11" transform="translate(3168.5,1434)"><rect class="b" x="-132.5" y="0" width="265" height="111"/><text><tspan x="0" y="22.5">parent_action: (-1.87,-0.81,-1.75)</tspan><tspan x="0" y="42.3">N:</tspan><tspan x="0" y="62.1">Nvisited: 0</tspan><tspan x="0" y="81.9">Q -</tspan><tspan x="0" y="101.7">R history -</tspan></text></g>
<g id="n_8_12" transform="translate(3458,1434)"><rect class="b" x="-130" y="0" width="260" height="111"/><text><tspan x="0" y="22.5">parent_action: (-1.35,-0.92,3.17)</tspan><tspan x="0" y="42.3">N:</tspan><tspan x="0" y="62.1">Nvisited: 0</tspan><tspan x="0" y="81.9">Q -</tspan><tspan x="0" y="101.7">R history -</tspan></text></g>
<g id="n_8_13" transform="translate(3744,1434)"><rect class="b" x="-133" y="0" width="266" height="111"/><text><tspan x="0" y="22.5">parent_action: (-1.84,-1.57,-0.77)</tspan><tspan x="0" y="42.3">N:</tspan><tspan x="0" y="62.1">Nvisited: 0</tspan><tspan x="0" y="81.9">Q -</tspan><tspan x="0" y="101.7">R history -</tspan></text></g>
<g id="n_8_14" transform="translate(4035,1434)"><rect class="b" x="-132" y="0" width="264" height="111"/><text><tspan x="0" y="22.5">parent_action: (-1.94,-1.21,-0.94)</tspan><tspan x="0" y="42.3">N:</tspan><tspan x="0" y="62.1">Nvisited: 0</tspan><tspan x="0" y="81.9">Q -</tspan><tspan x="0" y="101.7">R history -</tspan></text></g>
<g id="n_8_15" transform="translate(4326,1434)"><rect class="b" x="-133" y="0" width="266" height="111"/><text><tspan x="0" y="22.5">parent_action: (-1.71,-1.36,-1.28)</tspan><tspan x="0" y="42.3">N:</tspan><tspan x="0" y="62.1">Nvisited: 0</tspan><tspan x="0" y="81.9">Q -</tspan><tspan x="0" y="101.7">R history -</tspan></text></g>
<g id="n_8_16" transform="translate(4617,1434)"><rect class="b" x="-132" y="0" width="264" height="111"/><text><tspan x="0" y="22.5">parent_action: (-1.93,-1.34,-1.29)</tspan><tspan x="0" y="42.3">N:</tspan><tspan x="0" y="62.1">Nvisited: 0</tspan><tspan x="0" y="81.9">Q -</tspan><tspan x="0" y="101.7">R history -</tspan></text></g>
<g id="n_8_17" transform="translate(4906,1434)"><rect class="b" x="-132" y="0" width="264" height="111"/><text><tspan x="0" y="22.5">parent_action: (-1.46,-1.65,1.34)</tspan><tspan x="0" y="42.3">N:</tspan><tspan x="0" y="62.1">Nvisited: 0</tspan><tspan x="0" y="81.9">Q -</tspan><tspan x="0" y="101.7">R history -</tspan></text></g>
<g id="n_8_18" transform="translate(5189.5,1434)"><rect class="b" x="-128.5" y="0" width="257" height="111"/><text><tspan x="0" y="22.5">parent_action: (-1.29,-1.85,3.08)</tspan><tspan x="0" y="42.3">N:</tspan><tspan x="0" y="62.1">Nvisited: 0</tspan><tspan x="0" y="81.9">Q -</tspan><tspan x="0" y="101.7">R history -</tspan></text></g>
<g id="n_8_19" transform="translate(5472.5,1434)"><rect class="b" x="-130.5" y="0" width="261" height="111"/><text><tspan x="0" y="22.5">parent_action: (-1.91,-1.16,0.68)</tspan><tspan x="0" y="42.3">N:</tspan><tspan x="0" y="62.1">Nvisited: 0</tspan><tspan x="0" y="81.9">Q -</tspan><tspan x="0" y="101.7">R history -</tspan></text></g>
<g id="n_8_20" transform="translate(5756.5,1434)"><rect class="b" x="-129.5" y="0" width="259" height="111"/><text><tspan x="0" y="22.5">parent_action: (-1.41,-1.62,3.43)</tspan><tspan x="0" y="42.3">N:</tspan><tspan x="0" y="62.1">Nvisited: 0</tspan><tspan x="0" y="81.9">Q -</tspan><tspan x="0" y="101.7">R history -</tspan></text></g>
<g id="n_8_21" transform="translate(6041,1434)"><rect class="b" x="-129" y="0" width="258" height="111"/><text><tspan x="0" y="22.5">parent_action: (-1.44,-1.94,0.96)</tspan><tspan x="0" y="42.3">N:</tspan><tspan x="0" y="62.1">Nvisited: 0</tspan><tspan x="0" y="81.9">Q -</tspan><tspan x="0" y="101.7">R history -</tspan></text></g>
<g id="n_8_22" transform="translate(6328.5,1434)"><rect class="b" x="-132.5" y="0" width="265" height="111"/><text><tspan x="0" y="22.5">parent_action: (-1.49,-1.27,-1.72)</tspan><tspan x="0" y="42.3">N:</tspan><tspan x="0" y="62.1">Nvisited: 0</tspan><tspan x="0" y="81.9">Q -</tspan><tspan x="0" y="101.7">R history -</tspan></text></g>
<g id="n_8_23" transform="translate(6616.5,1434)"><rect class="b" x="-129.5" y="0" width="259" height="111"/><text><tspan x="0" y="22.5">parent_action: (-1.41,-1.01,2.09)</tspan><tspan x="0" y="42.3">N:</tspan><tspan x="0" y="62.1">Nvisited: 0</tspan><tspan x="0" y="81.9">Q -</tspan><tspan x="0" y="101.7">R history -</tspan></text></g>
<g id="n_8_24" transform="translate(6900.5,1434)"><rect class="b" x="-129.5" y="0" width="259" height="111"/><text><tspan x="0" y="22.5">parent_action: (-1.23,-0.65,3.31)</tspan><tspan x="0" y="42.3">N:</tspan><tspan x="0" y="62.1">Nvisited: 0</tspan><tspan x="0" y="81.9">Q -</tspan><tspan x="0" y="101.7">R history -</tspan></text></g>
<g id="n_8_25" transform="translate(7182,1434)"><rect class="b" x="-126" y="0" width="252" height="111"/><text><tspan x="0" y="22.5">parent_action: (-1.39,0.22,3.56)</tspan><tspan x="0" y="42.3">N:</tspan><tspan x="0" y="62.1">Nvisited: 0</tspan><tspan x="0" y="81.9">Q -</tspan><tspan x="0" y="101.7">R history -</tspan></text></g>
</g>
</svg>
